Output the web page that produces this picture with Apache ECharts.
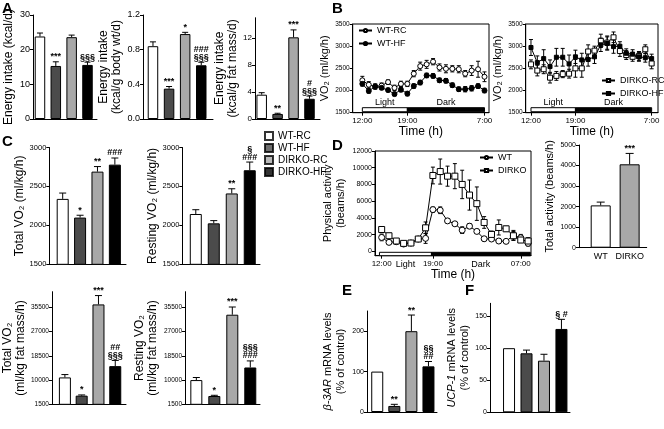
<!DOCTYPE html>
<html><head><meta charset="utf-8">
<script src="https://cdn.jsdelivr.net/npm/echarts@6/dist/echarts.min.js"></script>
<style>html,body{margin:0;padding:0;background:#fff}#c{width:664px;height:429px}</style>
</head><body><div id="c"></div>
<script>
// ---------------- DATA ----------------
const groups = ['WT-RC', 'WT-HF', 'DIRKO-RC', 'DIRKO-HF'];

// Panel A
const intakeKcal = [23.8, 15.3, 23.6, 15.6];
const intakeKcalErr = [1.0, 1.2, 0.6, 0.8];
const intakeKcalSig = ['', '***', '', '§§§'];
const intakeBodyWt = [0.84, 0.35, 0.98, 0.62];
const intakeBodyWtErr = [0.05, 0.025, 0.02, 0.035];
const intakeBodyWtSig = ['', '***', '*', '###\n§§§'];
const intakeFat = [3.6, 0.75, 12.1, 3.0];
const intakeFatErr = [0.3, 0.1, 1.1, 0.4];
const intakeFatSig = ['', '**', '***', '#\n§§§'];

// Panel B (hourly, 0 = 12:00)
const hoursB = [0,1,2,3,4,5,6,7,8,9,10,11,12,13,14,15,16,17,18,19];
const vo2WtRc = [2230,2130,2090,2110,2190,2060,2150,2150,2380,2550,2590,2650,2520,2490,2490,2480,2380,2450,2480,2310];
const vo2WtRcErr = [90,70,60,60,50,60,60,60,70,90,90,70,80,90,70,80,70,110,180,110];
const vo2WtHf = [2150,1990,2090,2060,2010,1920,2020,1930,2100,2180,2340,2330,2230,2220,2120,2030,2030,2050,2100,2000];
const vo2WtHfErr = [50,50,50,40,40,40,50,50,50,50,50,50,50,50,50,50,60,60,50,50];
const vo2DkRc = [2590,2450,2480,2290,2330,2370,2380,2500,2500,2880,2900,3120,3080,3200,2890,2800,2760,2780,2930,2610];
const vo2DkRcErr = [100,120,100,120,100,80,100,200,200,150,100,150,150,120,120,100,100,100,100,120];
const vo2DkHf = [2970,2630,2720,2540,2750,2750,2600,2760,2690,2700,2760,3030,3060,2990,3000,2840,2820,2760,2740,2720];
const vo2DkHfErr = [180,150,200,150,200,200,200,150,150,150,150,150,150,150,100,100,100,100,100,100];
const timeTicksB = [0, 7, 19];
const timeLabelsB = ['12:00', '19:00', '7:00'];
const periodsB = [[0, 7], [7, 19]];
const periodNames = ['Light', 'Dark'];

// Panel C
const totalVo2 = [2340, 2100, 2690, 2780];
const totalVo2Err = [75, 30, 65, 85];
const totalVo2Sig = ['', '*', '**', '###'];
const restVo2 = [2146, 2026, 2410, 2708];
const restVo2Err = [55, 35, 60, 105];
const restVo2Sig = ['', '', '**', '§\n###'];
const totalVo2Fat = [10930, 4530, 36540, 14890];
const totalVo2FatErr = [1000, 250, 3100, 2000];
const totalVo2FatSig = ['', '*', '***', '##\n§§§'];
const restVo2Fat = [10000, 4410, 32930, 14420];
const restVo2FatErr = [900, 250, 2700, 2300];
const restVo2FatSig = ['', '*', '***', '§§§\n###'];

// Panel D (hourly, 0 = 12:00)
const hoursD = [0,1,2,3,4,5,6,7,8,9,10,11,12,13,14,15,16,17,18,19,20];
const actWt = [1660,1070,1150,870,990,1470,1550,4990,4910,3640,3290,2530,3010,2380,1500,1470,1230,1190,1900,1620,950];
const actWtErr = [400,250,200,200,200,250,600,300,400,250,200,400,300,250,250,200,200,200,600,400,300];
const actDk = [2610,1860,1230,950,990,1470,2810,9070,9540,8990,8990,8000,6730,5700,3450,2020,2850,2690,1860,1350,1230];
const actDkErr = [300,300,300,200,200,300,700,1000,1500,1200,1500,1700,1800,2000,700,400,900,300,500,300,400];
const timeTicksD = [0, 7, 19];
const timeLabelsD = ['12:00', '19:00', '07:00'];
const periodsD = [[-0.3, 6.8], [6.8, 20.3]];
const actGroups = ['WT', 'DIRKO'];
const totalAct = [2060, 4060];
const totalActErr = [160, 530];
const totalActSig = ['', '***'];

// Panel E, F
const b3ar = [100, 15, 200, 113];
const b3arErr = [0, 4, 40, 12];
const b3arSig = ['', '**', '**', '§§\n##'];
const ucp1 = [100, 92, 80.5, 130];
const ucp1Err = [0, 5, 10, 15];
const ucp1Sig = ['', '', '', '§ #'];

// ---------------- STYLE / LAYOUT ----------------
const FONT = '"Liberation Sans", Arial, Helvetica, sans-serif';
const barColors = ['#ffffff', '#4b4b4b', '#a8a8a8', '#000000'];
const grid = [], xAxis = [], yAxis = [], series = [];

function addGrid(g, boxed) {
  grid.push({left: g[0], top: g[1], width: g[2], height: g[3], show: !!boxed,
    borderColor: '#000', borderWidth: 1, backgroundColor: 'transparent'});
  return grid.length - 1;
}
function yAx(gi, min, max, ticks, o) {
  yAxis.push({gridIndex: gi, type: 'value', min: min, max: max,
    axisLine: {show: true, onZero: false, lineStyle: {color: '#000', width: 1}},
    axisTick: {show: true, length: 3, customValues: ticks, lineStyle: {color: '#000'}},
    axisLabel: {fontSize: o.fs || 8, color: '#000', fontFamily: FONT, margin: 3,
      customValues: ticks, formatter: o.fmt || (v => String(v))},
    splitLine: {show: false},
    name: o.name, nameLocation: 'middle', nameGap: o.gap,
    nameTextStyle: {fontSize: o.nfs || 12, fontFamily: FONT, color: '#000', lineHeight: o.lh || 13,
      rich: {i: {fontStyle: 'italic', fontSize: o.nfs || 12, fontFamily: FONT, lineHeight: o.lh || 13}}}
  });
}
function xBarAx(gi, min, max, labels, fs) {
  xAxis.push({gridIndex: gi, type: 'value', min: min, max: max,
    axisLine: {show: true, onZero: false, lineStyle: {color: '#000', width: 1}},
    axisTick: {show: false},
    axisLabel: labels ? {show: true, customValues: labels.map((_, i) => i), formatter: v => labels[v],
      fontSize: fs || 9, color: '#000', fontFamily: FONT, margin: 4} : {show: false},
    splitLine: {show: false}});
}
function xTimeAx(gi, min, max, ticks, labels, gap) {
  xAxis.push({gridIndex: gi, type: 'value', min: min, max: max,
    axisLine: {show: true, onZero: false, lineStyle: {color: '#000', width: 1}},
    axisTick: {show: true, length: 3, customValues: ticks, lineStyle: {color: '#000'}},
    axisLabel: {customValues: ticks, formatter: v => labels[ticks.indexOf(v)], fontSize: 8,
      color: '#000', fontFamily: FONT, margin: 4},
    splitLine: {show: false},
    name: 'Time (h)', nameLocation: 'middle', nameGap: gap,
    nameTextStyle: {fontSize: 12, fontFamily: FONT, color: '#000'}});
}
function errRender(sigs, cap, both, sigFont) {
  return function (params, api) {
    const x = api.value(0), y = api.value(1), e = api.value(2);
    const top = api.coord([x, y + e]);
    const mid = api.coord([x, y]);
    const bot = both ? api.coord([x, y - e]) : mid;
    const ch = [];
    const st = {stroke: '#000', lineWidth: 1};
    if (e > 0) {
      ch.push({type: 'line', shape: {x1: top[0], y1: top[1], x2: bot[0], y2: bot[1]}, style: st});
      ch.push({type: 'line', shape: {x1: top[0] - cap, y1: top[1], x2: top[0] + cap, y2: top[1]}, style: st});
      if (both) ch.push({type: 'line', shape: {x1: bot[0] - cap, y1: bot[1], x2: bot[0] + cap, y2: bot[1]}, style: st});
    }
    const s = sigs ? sigs[params.dataIndex] : '';
    if (s) ch.push({type: 'text', x: top[0], y: top[1] - 1,
      style: {text: s, align: 'center', verticalAlign: 'bottom', font: sigFont || ('bold 9px ' + FONT),
        fill: '#000', lineHeight: 8}});
    return {type: 'group', children: ch};
  };
}
function barPanel(g, xr, yr, ticks, vals, errs, sigs, o) {
  const gi = addGrid(g);
  xBarAx(gi, xr[0], xr[1], o.xlabels, o.xfs);
  yAx(gi, yr[0], yr[1], ticks, o);
  const cols = o.colors || barColors;
  series.push({type: 'bar', xAxisIndex: gi, yAxisIndex: gi, barWidth: o.bw || 11, silent: true,
    data: vals.map((v, i) => ({value: [i, v], itemStyle: {color: cols[i]}})),
    itemStyle: {borderColor: '#000', borderWidth: 1}, z: 2});
  series.push({type: 'custom', xAxisIndex: gi, yAxisIndex: gi, silent: true, z: 3,
    data: vals.map((v, i) => [i, v, errs[i]]),
    renderItem: errRender(sigs, o.cap || 3, false, o.sigFont)});
}
function bandSeries(gi, periods, yLo, yHi, textDy, textFont) {
  series.push({type: 'custom', xAxisIndex: gi, yAxisIndex: gi, silent: true, z: 1,
    data: periods.map(p => [p[0], p[1]]),
    renderItem: function (params, api) {
      const a = api.coord([api.value(0), yLo]);
      const b = api.coord([api.value(1), yHi]);
      const dark = params.dataIndex === 1;
      return {type: 'group', children: [
        {type: 'rect', shape: {x: a[0], y: b[1], width: b[0] - a[0], height: a[1] - b[1]},
          style: {fill: dark ? '#000' : '#fff', stroke: '#000', lineWidth: 1}},
        {type: 'text', x: (a[0] + b[0]) / 2, y: (textDy < 0 ? b[1] : a[1]) + textDy,
          style: {text: periodNames[params.dataIndex], align: 'center',
            verticalAlign: textDy < 0 ? 'bottom' : 'top', font: textFont, fill: '#000'}}
      ]};
    }});
}
function lineSeries(gi, name, xs, ys, errs, symbol, filled, size) {
  series.push({type: 'line', name: name, xAxisIndex: gi, yAxisIndex: gi, silent: true, z: 4,
    data: xs.map((x, i) => [x, ys[i]]), symbol: symbol, symbolSize: size, showAllSymbol: true,
    lineStyle: {color: '#000', width: 1},
    itemStyle: {color: filled ? '#000' : '#fff', borderColor: '#000', borderWidth: 1}});
  series.push({type: 'custom', xAxisIndex: gi, yAxisIndex: gi, silent: true, z: 3,
    data: xs.map((x, i) => [x, ys[i], errs[i]]), renderItem: errRender(null, 2, true)});
}

// ---- A ----
barPanel([33, 15, 64, 104], [-0.44, 3.6], [0, 30], [0, 10, 20, 30],
  intakeKcal, intakeKcalErr, intakeKcalSig,
  {name: 'Energy intake (kcal/d)', gap: 18, fs: 9, bw: 10.5});
barPanel([143, 15, 70, 104], [-0.62, 3.73], [0, 1.2], [0, 0.4, 0.8, 1.2],
  intakeBodyWt, intakeBodyWtErr, intakeBodyWtSig,
  {name: 'Energy intake\n(kcal/g body wt/d)', gap: 18, fs: 9, fmt: v => v.toFixed(1), bw: 10.5});
barPanel([255, 17.75, 65, 101.25], [-0.42, 3.66], [0, 15], [0, 4, 8, 12],
  intakeFat, intakeFatErr, intakeFatSig,
  {name: 'Energy intake\n(kcal/g fat mass/d)', gap: 10, fs: 8, bw: 10.5});

// ---- B ----
const gB1 = addGrid([352.7, 24, 136.3, 88.7], true);
xTimeAx(gB1, -1.5, 19.7, timeTicksB, timeLabelsB, 11);
yAx(gB1, 1500, 3500, [1500, 2000, 2500, 3000, 3500], {name: 'VO₂ (ml/kg/h)', gap: 17, fs: 6.5, nfs: 11});
bandSeries(gB1, periodsB, 1522, 1613, -1, '9px ' + FONT);
lineSeries(gB1, 'WT-RC', hoursB, vo2WtRc, vo2WtRcErr, 'circle', false, 5);
lineSeries(gB1, 'WT-HF', hoursB, vo2WtHf, vo2WtHfErr, 'circle', true, 5);

const gB2 = addGrid([525.7, 24, 132.3, 88.7], true);
xTimeAx(gB2, -0.83, 20, timeTicksB, timeLabelsB, 11);
yAx(gB2, 1500, 3500, [1500, 2000, 2500, 3000, 3500], {name: 'VO₂ (ml/kg/h)', gap: 19, fs: 6.5, nfs: 11});
bandSeries(gB2, periodsB, 1522, 1613, -1, '9px ' + FONT);
lineSeries(gB2, 'DIRKO-RC', hoursB, vo2DkRc, vo2DkRcErr, 'rect', false, 5);
lineSeries(gB2, 'DIRKO-HF', hoursB, vo2DkHf, vo2DkHfErr, 'rect', true, 4);

// ---- C ----
barPanel([49.3, 147.5, 76.7, 116.8], [-0.77, 3.64], [1500, 3000], [1500, 2000, 2500, 3000],
  totalVo2, totalVo2Err, totalVo2Sig, {name: 'Total VO₂ (ml/kg/h)', gap: 23, fs: 7.5, bw: 12, cap: 3.5});
barPanel([182.3, 147.5, 77.7, 116.8], [-0.75, 3.57], [1500, 3000], [1500, 2000, 2500, 3000],
  restVo2, restVo2Err, restVo2Sig, {name: 'Resting VO₂ (ml/kg/h)', gap: 23, fs: 7.5, bw: 12, cap: 3.5});
barPanel([49.3, 291.7, 76.7, 112.6], [-0.77, 3.64], [1500, 41000], [1500, 10000, 18500, 27000, 35500],
  totalVo2Fat, totalVo2FatErr, totalVo2FatSig, {name: 'Total VO₂\n(ml/kg fat mass/h)', gap: 23, fs: 6.5, bw: 12, cap: 3.5});
barPanel([185, 291.7, 75, 112.6], [-0.63, 3.54], [1500, 41000], [1500, 10000, 18500, 27000, 35500],
  restVo2Fat, restVo2FatErr, restVo2FatSig, {name: 'Resting VO₂\n(ml/kg fat mass/h)', gap: 26, fs: 6.5, bw: 12, cap: 3.5});

// ---- D ----
const gD = addGrid([375, 151, 156, 104.7], true);
xTimeAx(gD, -0.91, 20.4, timeTicksD, timeLabelsD, 12);
yAx(gD, -526, 12000, [0, 2000, 4000, 6000, 8000, 10000, 12000],
  {name: 'Physical activity\n(beams/h)', gap: 28, fs: 7, nfs: 11});
bandSeries(gD, periodsD, -526, -120, 4, '9px ' + FONT);
lineSeries(gD, 'WT', hoursD, actWt, actWtErr, 'circle', false, 6);
lineSeries(gD, 'DIRKO', hoursD, actDk, actDkErr, 'rect', false, 6);

barPanel([579, 145, 67.7, 102.7], [-0.75, 1.59], [0, 5000], [0, 1000, 2000, 3000, 4000, 5000],
  totalAct, totalActErr, totalActSig,
  {name: 'Total activity (beams/h)', gap: 22, fs: 7, nfs: 11, bw: 20, cap: 4,
   colors: ['#ffffff', '#a8a8a8'], xlabels: actGroups, xfs: 9});

// ---- E, F ----
barPanel([367, 311, 70, 101], [-0.6, 3.5], [0, 250], [0, 100, 200],
  b3ar, b3arErr, b3arSig,
  {name: '{i|β-3AR} mRNA levels\n(% of control)', gap: 20, fs: 7, nfs: 11, bw: 12, cap: 3.5});
barPanel([490, 303.3, 80, 109], [-1.09, 3.49], [0, 170], [0, 50, 100, 150],
  ucp1, ucp1Err, ucp1Sig,
  {name: '{i|UCP-1} mRNA levels\n(% of control)', gap: 12, fs: 7, nfs: 11, bw: 12, cap: 3.5});

// legend-only series for panel C groups
groups.forEach((g, i) => series.push({type: 'scatter', name: 'c:' + g, xAxisIndex: 0, yAxisIndex: 0,
  data: [], symbol: 'rect', itemStyle: {color: barColors[i], borderColor: '#000', borderWidth: 1}}));

const legendText = {fontSize: 10, fontFamily: FONT, color: '#000'};
const lineLegend = {orient: 'vertical', itemWidth: 13, itemHeight: 4, itemGap: 4,
  textStyle: {fontSize: 9, fontFamily: FONT, color: '#000'}, selectedMode: false, padding: 0};
const legend = [
  {data: groups.map(g => 'c:' + g), formatter: n => n.slice(2), orient: 'vertical', left: 264, top: 131,
   itemWidth: 8, itemHeight: 8, itemGap: 2, textStyle: legendText, selectedMode: false, padding: 0},
  Object.assign({data: ['WT-RC', 'WT-HF'], left: 358, top: 26}, lineLegend),
  Object.assign({data: ['DIRKO-RC', 'DIRKO-HF'], left: 601, top: 76}, lineLegend),
  Object.assign({data: ['WT', 'DIRKO'], left: 479, top: 153}, lineLegend)
];

const letterStyle = {fontSize: 15, fontWeight: 'bold', fontFamily: FONT, color: '#000'};
const title = [
  {text: 'A', left: 2, top: 1}, {text: 'B', left: 332, top: 1}, {text: 'C', left: 2, top: 134},
  {text: 'D', left: 332, top: 138}, {text: 'E', left: 342, top: 283}, {text: 'F', left: 465, top: 283}
].map(t => Object.assign(t, {padding: 0, textStyle: letterStyle}));

const chart = echarts.init(document.getElementById('c'), null, {renderer: 'canvas'});
chart.setOption({animation: false, backgroundColor: '#fff', title, legend, grid, xAxis, yAxis, series});
</script></body></html>
